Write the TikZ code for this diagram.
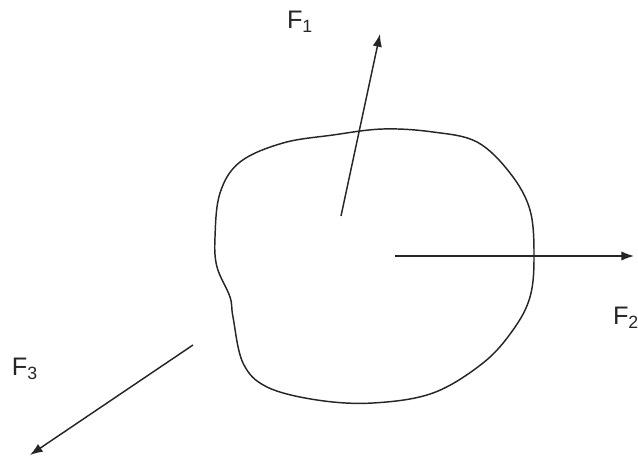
\documentclass[tikz,border=0pt]{standalone}
\usepackage{fontspec}
\setmainfont{Liberation Sans}
\usetikzlibrary{arrows.meta}
\tikzset{
  force/.style={-{Latex[length=9.5pt, width=7pt]}, line width=1.1pt, draw=black!85},
  flabel/.style={font=\fontsize{19}{22}\selectfont, text=black!85, inner sep=0pt}}

\begin{document}
\begin{tikzpicture}[x=0.75pt,y=-0.75pt]
	\useasboundingbox (0,0) rectangle (638,459);
	% the body
	\draw [line width=1.1pt, draw=black!85] plot [smooth cycle, tension=0.6] coordinates {
	(383,129) (433,132) (477,142) (510,173) (530,210) (534,257) (530,297) (513,330)
	(483,363) (433,393) (373,403) (317,400) (267,387) (243,363) (233,317) (230,297)
	(217,267) (215,237) (220,193) (240,162) (283,143) (333,135)};
	% forces
	\coordinate (f1s) at (341,216);
	\coordinate (f1e) at (380,34);
	\coordinate (f2s) at (395,256);
	\coordinate (f2e) at (634,256);
	\coordinate (f3s) at (193,345);
	\coordinate (f3e) at (30,455);
	\draw [force] (f1s) -- (f1e);
	\draw [force] (f2s) -- (f2e);
	\draw [force] (f3s) -- (f3e);
	\node [flabel] (F1) at (300,22) {F\textsubscript{1}};
	\node [flabel] (F2) at (626,318) {F\textsubscript{2}};
	\node [flabel] (F3) at (25,369) {F\textsubscript{3}};
\end{tikzpicture}
\end{document}
